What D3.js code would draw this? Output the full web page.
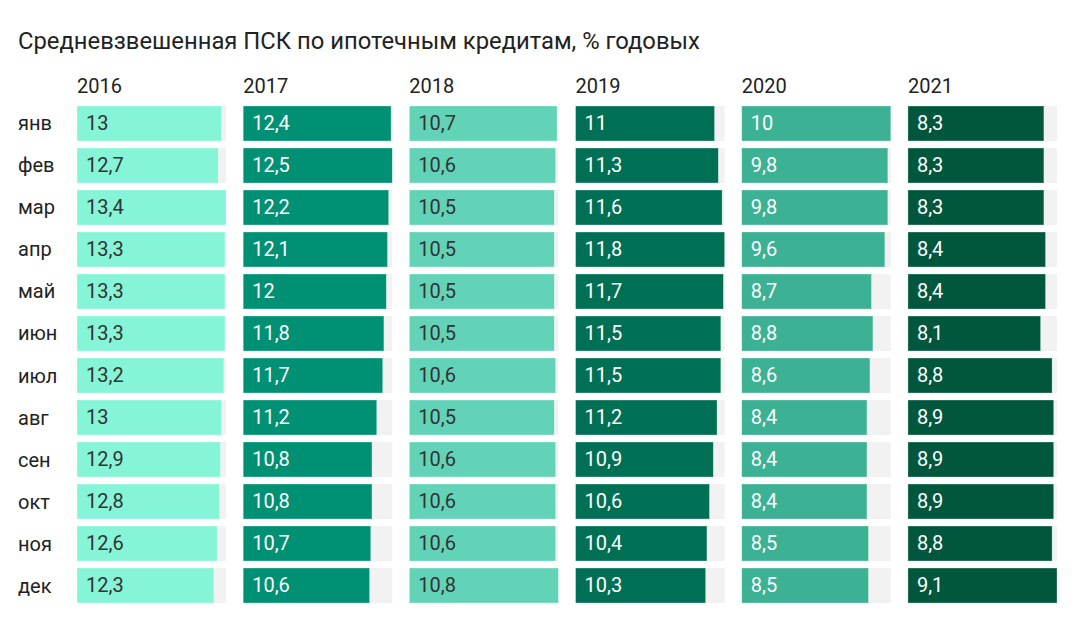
<!doctype html>
<html>
    <head>
        <meta charset="utf-8">
        <title>ПСК по ипотечным кредитам</title>
        <script src="https://d3js.org/d3.v7.min.js"></script>
        <style>
            body { margin: 0; background: #fff; }
            text { font-family: Roboto, "Noto Sans", sans-serif; }
        </style>
    </head>

    <body>
        <script>
            // months and years
            var months = ["янв", "фев", "мар", "апр", "май", "июн", "июл", "авг", "сен", "окт", "ноя", "дек"];
            var years = ["2016", "2017", "2018", "2019", "2020", "2021"];

            // values per year, one per month
            var v2016 = [13, 12.7, 13.4, 13.3, 13.3, 13.3, 13.2, 13, 12.9, 12.8, 12.6, 12.3];
            var v2017 = [12.4, 12.5, 12.2, 12.1, 12, 11.8, 11.7, 11.2, 10.8, 10.8, 10.7, 10.6];
            var v2018 = [10.7, 10.6, 10.5, 10.5, 10.5, 10.5, 10.6, 10.5, 10.6, 10.6, 10.6, 10.8];
            var v2019 = [11, 11.3, 11.6, 11.8, 11.7, 11.5, 11.5, 11.2, 10.9, 10.6, 10.4, 10.3];
            var v2020 = [10, 9.8, 9.8, 9.6, 8.7, 8.8, 8.6, 8.4, 8.4, 8.4, 8.5, 8.5];
            var v2021 = [8.3, 8.3, 8.3, 8.4, 8.4, 8.1, 8.8, 8.9, 8.9, 8.9, 8.8, 9.1];

            var series = [v2016, v2017, v2018, v2019, v2020, v2021];

            var colors = ["#86f5d7", "#009073", "#62d3b6", "#007055", "#3cb194", "#00573d"];
            var textColors = ["#333", "#fff", "#333", "#fff", "#fff", "#fff"];

            var width = 1079;
            var height = 622;

            var svg = d3.select("body")
                .append("svg")
                .attr("width", width)
                .attr("height", height);

            // columns (years) and rows (months)
            var xCol = d3.scaleBand()
                .domain(years)
                .range([77, 1057])
                .paddingInner(0.103);

            var yRow = d3.scaleBand()
                .domain(months)
                .range([106, 603])
                .paddingInner(0.167);

            // title
            svg.append("text")
                .attr("x", 18)
                .attr("y", 49)
                .attr("font-size", 23.8)
                .attr("fill", "#222")
                .text("Средневзвешенная ПСК по ипотечным кредитам, % годовых");

            // month labels
            svg.selectAll(".month")
                .data(months)
                .enter().append("text")
                .attr("class", "month")
                .attr("x", 18)
                .attr("y", function(d) { return yRow(d) + yRow.bandwidth() / 2; })
                .attr("dy", "0.35em")
                .attr("font-size", 20)
                .attr("fill", "#222")
                .text(function(d) { return d; });

            years.forEach(function(year, i) {
                var vals = series[i];
                // each column is scaled to its own max
                var x = d3.scaleLinear()
                    .domain([0, d3.max(vals)])
                    .range([0, xCol.bandwidth()]);

                var g = svg.append("g")
                    .attr("transform", "translate(" + xCol(year) + ",0)");

                g.append("text")
                    .attr("x", 0)
                    .attr("y", 93)
                    .attr("font-size", 20)
                    .attr("fill", "#222")
                    .text(year);

                var rows = g.selectAll(".row")
                    .data(vals)
                    .enter().append("g")
                    .attr("class", "row")
                    .attr("transform", function(d, j) { return "translate(0," + yRow(months[j]) + ")"; });

                // grey background
                rows.append("rect")
                    .attr("width", xCol.bandwidth())
                    .attr("height", yRow.bandwidth())
                    .attr("fill", "#f2f2f2");

                rows.append("rect")
                    .attr("width", function(d) { return x(d); })
                    .attr("height", yRow.bandwidth())
                    .attr("fill", colors[i])
                    .attr("stroke", "#ffffff")
                    .attr("stroke-opacity", 0.5)
                    .attr("stroke-width", 0.6);

                rows.append("text")
                    .attr("x", 9)
                    .attr("y", yRow.bandwidth() / 2)
                    .attr("dy", "0.35em")
                    .attr("font-size", 20)
                    .attr("fill", textColors[i])
                    .text(function(d) { return String(d).replace(".", ","); });
            });
        </script>
    </body>
</html>
